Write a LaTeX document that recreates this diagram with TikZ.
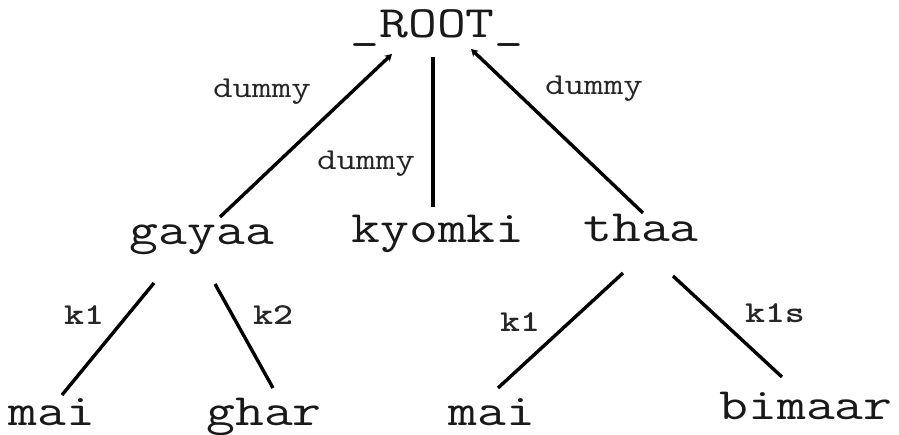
\documentclass[tikz,border=0pt]{standalone}
\usetikzlibrary{calc,arrows.meta}
\begin{document}
\begin{tikzpicture}[x=1pt,y=-1pt,
  word/.style={inner sep=0pt,anchor=base,font=\ttfamily\fontsize{56}{56}\selectfont,text=black!90},
  lbl/.style={inner sep=0pt,anchor=base,font=\ttfamily\fontsize{38}{38}\selectfont,text=black!85},
  klbl/.style={lbl,font=\ttfamily\bfseries\fontsize{38}{38}\selectfont},
  edge/.style={line width=3.4pt,black},
  up/.style={edge,-{Stealth[length=7pt,width=8pt]}}]
\newcommand\sq[1]{\scalebox{1}[0.8]{#1}}
\useasboundingbox (0,0) rectangle (899,435);

% tree nodes
\node[word] (root)   at (437,38)  {\sq{\_ROOT\_}};
\node[word] (gayaa)  at (202,245) {\sq{gayaa}};
\node[word] (kyomki) at (438,243) {\sq{kyomki}};
\node[word] (thaa)   at (641,242) {\sq{thaa}};
\node[word] (maiA)   at (52,425)  {\sq{mai}};
\node[word] (ghar)   at (264,425) {\sq{ghar}};
\node[word] (maiB)   at (492,425) {\sq{mai}};
\node[word] (bimaar) at (806,419) {\sq{bimaar}};

% edge labels
\node[lbl]  (d1) at (262,98)  {\sq{dummy}};
\node[lbl]  (d2) at (366,170) {\sq{dummy}};
\node[lbl]  (d3) at (594,95)  {\sq{dummy}};
\node[klbl] (k1) at (84,325)  {\sq{k1}};
\node[klbl] (k2) at (273,325) {\sq{k2}};
\node[klbl] (k3) at (520,332) {\sq{k1}};
\node[klbl] (k4) at (775,323) {\sq{k1s}};

% connectors
\draw[up]   ($(gayaa.base)+(18,-28)$) -- ($(root.base)+(-45,16)$);
\draw[edge] ($(root.base)+(-4,19)$) -- ($(kyomki.base)+(-5,-36)$);
\draw[up]   ($(thaa.base)+(2,-29)$) -- ($(root.base)+(34,11)$);
\draw[edge] ($(gayaa.base)+(-48,38)$) -- ($(maiA.base)+(10,-30)$);
\draw[edge] ($(gayaa.base)+(13,39)$) -- ($(ghar.base)+(9,-37)$);
\draw[edge] ($(thaa.base)+(-18,31)$) -- ($(maiB.base)+(6,-37)$);
\draw[edge] ($(thaa.base)+(32,34)$) -- ($(bimaar.base)+(-24,-42)$);
\end{tikzpicture}
\end{document}
